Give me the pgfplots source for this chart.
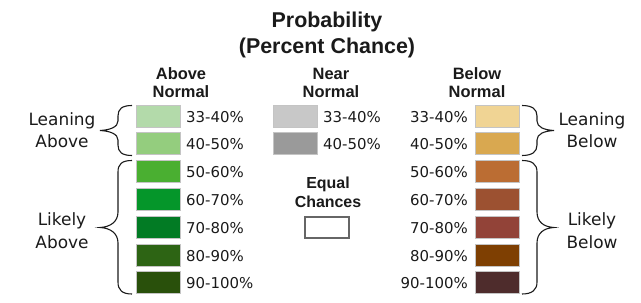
\documentclass[border=0pt]{standalone}
\usepackage{pgfplots}
\pgfplotsset{compat=1.18}
\usepackage{fontspec}
\setmainfont{Liberation Sans}
\newfontfamily\dv{DejaVu Sans}
\definecolor{g1}{HTML}{B3DAAA}
\definecolor{g2}{HTML}{94CD7E}
\definecolor{g3}{HTML}{4AAF31}
\definecolor{g4}{HTML}{05962A}
\definecolor{g5}{HTML}{027B24}
\definecolor{g6}{HTML}{2D6414}
\definecolor{g7}{HTML}{29500B}
\definecolor{n1}{HTML}{C8C8C8}
\definecolor{n2}{HTML}{9A9A9A}
\definecolor{b1}{HTML}{F0D494}
\definecolor{b2}{HTML}{D9A850}
\definecolor{b3}{HTML}{BB6D33}
\definecolor{b4}{HTML}{9C5131}
\definecolor{b5}{HTML}{924338}
\definecolor{b6}{HTML}{7E3F02}
\definecolor{b7}{HTML}{4E2C2C}
\definecolor{boxedge}{HTML}{C4C4C4}
\definecolor{txt}{HTML}{1A1A1A}
\newcommand{\bx}[5]{% x0, x1, ytop, ybot, color
  \addplot[fill=#5, draw=boxedge, line width=1pt] coordinates {(#1,#3) (#2,#3) (#2,#4) (#1,#4)} -- cycle;}
\newcommand{\lw}[2]{\node[anchor=base west, inner sep=0pt, font=\dv\fontsize{15}{17}\selectfont, text=txt] at (axis cs:#1) {#2};}
\newcommand{\lre}[2]{\node[anchor=base east, inner sep=0pt, font=\dv\fontsize{15}{17}\selectfont, text=txt] at (axis cs:#1) {#2};}
\newcommand{\sd}[2]{\node[anchor=base, font=\dv\fontsize{17}{19}\selectfont, text=txt] at (axis cs:#1) {#2};}
\newcommand{\hd}[2]{\node[anchor=base, font=\fontsize{16.5}{18}\selectfont\bfseries, text=txt] at (axis cs:#1) {#2};}
\begin{document}
\begin{tikzpicture}
\begin{axis}[width=641bp, height=303bp, scale only axis, hide axis,
  xmin=0, xmax=641, ymin=0, ymax=303, y dir=reverse, clip=false]
\addplot[draw=none] coordinates {(0,0) (641,303)};
% titles
\node[anchor=base, font=\fontsize{21.5}{24}\selectfont\bfseries, text=txt] at (axis cs:327,28) {Probability};
\node[anchor=base, font=\fontsize{21.5}{24}\selectfont\bfseries, text=txt] at (axis cs:327,53) {(Percent Chance)};
\hd{181,79}{Above}
\hd{181,97}{Normal}
\hd{331,79}{Near}
\hd{331,97}{Normal}
\hd{477,79}{Below}
\hd{477,97}{Normal}
\node[anchor=base, font=\fontsize{16}{18}\selectfont\bfseries, text=txt] at (axis cs:328,188) {Equal};
\node[anchor=base, font=\fontsize{16}{18}\selectfont\bfseries, text=txt] at (axis cs:328,207) {Chances};
% green boxes
\bx{136}{180}{105}{127}{g1}
\bx{136}{180}{132.8}{154.8}{g2}
\bx{136}{180}{160.6}{182.6}{g3}
\bx{136}{180}{188.4}{210.4}{g4}
\bx{136}{180}{216.2}{238.2}{g5}
\bx{136}{180}{244}{266}{g6}
\bx{136}{180}{271.8}{293.8}{g7}
% gray boxes
\bx{273}{317}{105}{127}{n1}
\bx{273}{317}{132.8}{154.8}{n2}
% equal chances
\addplot[fill=white, draw=black!60, line width=1.4pt] coordinates {(305,217) (349,217) (349,238) (305,238)} -- cycle;
% brown boxes
\bx{475}{519}{105}{127}{b1}
\bx{475}{519}{132.8}{154.8}{b2}
\bx{475}{519}{160.6}{182.6}{b3}
\bx{475}{519}{188.4}{210.4}{b4}
\bx{475}{519}{216.2}{238.2}{b5}
\bx{475}{519}{244}{266}{b6}
\bx{475}{519}{271.8}{293.8}{b7}
% labels
\lw{186,122}{33-40\%}
\lw{186,149.8}{40-50\%}
\lw{186,177.6}{50-60\%}
\lw{186,205.4}{60-70\%}
\lw{186,233.2}{70-80\%}
\lw{186,261}{80-90\%}
\lw{186,288.8}{90-100\%}
\lre{468,122}{33-40\%}
\lre{468,149.8}{40-50\%}
\lre{468,177.6}{50-60\%}
\lre{468,205.4}{60-70\%}
\lre{468,233.2}{70-80\%}
\lre{468,261}{80-90\%}
\lre{468,288.8}{90-100\%}
\lw{323,122}{33-40\%}
\lw{323,149.8}{40-50\%}
% side labels
\sd{62,125.7}{Leaning}
\sd{62,147.7}{Above}
\sd{62,225.7}{Likely}
\sd{62,248}{Above}
\sd{592,125.7}{Leaning}
\sd{592,147.7}{Below}
\sd{592,225.7}{Likely}
\sd{592,248}{Below}
% braces
\draw[txt, line width=1.1pt] (axis cs:132,105.5) .. controls (axis cs:122,105.5) and (axis cs:118,109) .. (axis cs:118,116) -- (axis cs:118,121) .. controls (axis cs:118,127) and (axis cs:110,130) .. (axis cs:100,130.5) .. controls (axis cs:110,131) and (axis cs:118,134) .. (axis cs:118,140) -- (axis cs:118,145) .. controls (axis cs:118,152) and (axis cs:122,155.5) .. (axis cs:132,155.5);
\draw[txt, line width=1.1pt] (axis cs:132,160.5) .. controls (axis cs:122,160.5) and (axis cs:118,164) .. (axis cs:118,172) -- (axis cs:118,212) .. controls (axis cs:118,222) and (axis cs:110,227) .. (axis cs:100,227.5) .. controls (axis cs:110,228) and (axis cs:118,233) .. (axis cs:118,243) -- (axis cs:118,282) .. controls (axis cs:118,290) and (axis cs:122,294) .. (axis cs:132,294);
\draw[txt, line width=1.1pt] (axis cs:522,105.5) .. controls (axis cs:532,105.5) and (axis cs:537,109) .. (axis cs:537,116) -- (axis cs:537,121) .. controls (axis cs:537,127) and (axis cs:544,130) .. (axis cs:554,130.5) .. controls (axis cs:544,131) and (axis cs:537,134) .. (axis cs:537,140) -- (axis cs:537,145) .. controls (axis cs:537,152) and (axis cs:532,155.5) .. (axis cs:522,155.5);
\draw[txt, line width=1.1pt] (axis cs:522,160.5) .. controls (axis cs:532,160.5) and (axis cs:537,164) .. (axis cs:537,172) -- (axis cs:537,212) .. controls (axis cs:537,222) and (axis cs:544,227) .. (axis cs:554,227.5) .. controls (axis cs:544,228) and (axis cs:537,233) .. (axis cs:537,243) -- (axis cs:537,282) .. controls (axis cs:537,290) and (axis cs:532,294) .. (axis cs:522,294);
\end{axis}
\end{tikzpicture}
\end{document}
